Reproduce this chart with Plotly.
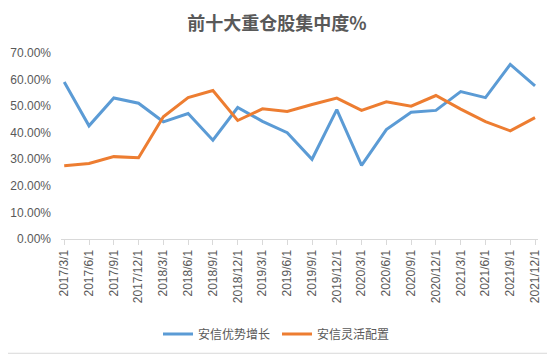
import plotly.graph_objects as go

dates = ["2017/3/1", "2017/6/1", "2017/9/1", "2017/12/1",
         "2018/3/1", "2018/6/1", "2018/9/1", "2018/12/1",
         "2019/3/1", "2019/6/1", "2019/9/1", "2019/12/1",
         "2020/3/1", "2020/6/1", "2020/9/1", "2020/12/1",
         "2021/3/1", "2021/6/1", "2021/9/1", "2021/12/1"]
growth = [59.1, 42.6, 53.1, 51.1, 44.1, 47.2, 37.2, 49.5, 44.3, 40.0,
          30.0, 48.7, 27.7, 41.2, 47.7, 48.4, 55.5, 53.2, 65.7, 57.6]
flexible = [27.6, 28.4, 31.0, 30.6, 46.0, 53.2, 55.9, 44.6, 49.0, 48.0,
            50.6, 53.0, 48.4, 51.6, 50.0, 54.0, 48.9, 44.2, 40.7, 45.7]
series_names = ["安信优势增长", "安信灵活配置"]
y_ticks = [0, 10, 20, 30, 40, 50, 60, 70]

FONT = "Noto Sans CJK SC, Liberation Sans, sans-serif"
NUMFONT = "Liberation Sans, Arial, sans-serif"
idx = list(range(len(dates)))

# page body has an 8px margin: figure coords = screen coords - 8
W, H = 555, 355
L, R, T, B = 53, 25, 44.6, 123.7
pw, ph = W - L - R, H - T - B

fig = go.Figure()
fig.add_trace(go.Scatter(x=idx, y=growth, mode="lines", name=series_names[0],
                         line=dict(color="#5B9BD5", width=3)))
fig.add_trace(go.Scatter(x=idx, y=flexible, mode="lines", name=series_names[1],
                         line=dict(color="#ED7D31", width=3)))

fig.update_layout(
    width=W, height=H,
    margin=dict(l=L, r=R, t=T, b=B, autoexpand=False),
    paper_bgcolor="white", plot_bgcolor="white",
    font=dict(family=FONT, size=12, color="#595959"),
    title=dict(text="<b>前十大重仓股集中度%</b>", x=269 / W, xref="container", xanchor="center",
               y=1 - 16 / H, yref="container", yanchor="middle",
               font=dict(size=18, color="#595959", family=FONT)),
    showlegend=True,
    legend=dict(orientation="h", xref="container", x=269 / W, xanchor="center",
                yref="container", y=1 - 326 / H, yanchor="middle",
                font=dict(size=12, color="#595959"), itemwidth=30,
                entrywidth=74, entrywidthmode="pixels",
                tracegroupgap=0),
    shapes=[dict(type="line", xref="paper", yref="paper",
                 x0=(546 - L) / pw, x1=(546 - L) / pw, y0=-B / ph, y1=1 + T / ph,
                 line=dict(color="#D9D9D9", width=1)),
            dict(type="line", xref="paper", yref="paper",
                 x0=-L / pw, x1=(546 - L) / pw, y0=-(346 - T - ph) / ph, y1=-(346 - T - ph) / ph,
                 line=dict(color="#D9D9D9", width=1))],
)
fig.update_xaxes(range=[-0.13, 19.12], tickmode="array", tickvals=idx, ticktext=dates,
                 tickangle=-90, showgrid=False, zeroline=False, automargin=False,
                 showline=True, linecolor="#D9D9D9", linewidth=1,
                 ticks="outside", ticklen=5, tickcolor="#D9D9D9",
                 tickfont=dict(size=12, color="#595959", family=NUMFONT))
fig.update_yaxes(range=[0, 70], tickmode="array", tickvals=y_ticks,
                 ticktext=[f"{v:.2f}%" for v in y_ticks],
                 showgrid=False, zeroline=False, showline=False, automargin=False,
                 ticklabelstandoff=9,
                 tickfont=dict(size=12, color="#595959", family=NUMFONT))

fig.write_html("out.html")
